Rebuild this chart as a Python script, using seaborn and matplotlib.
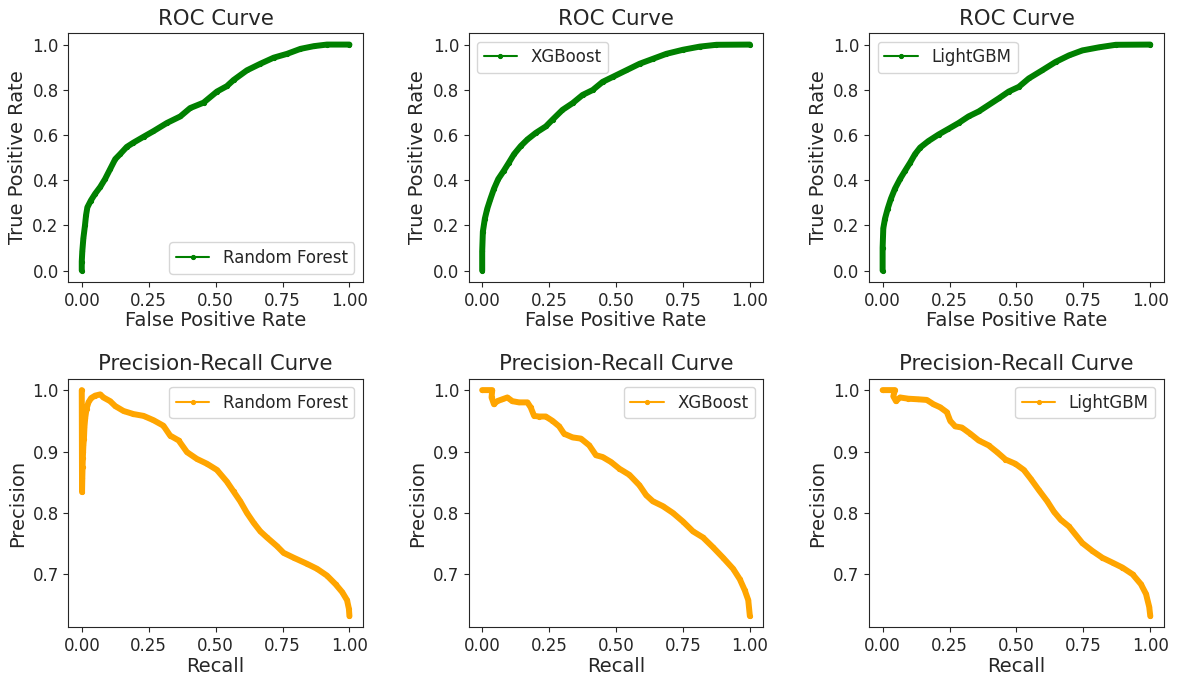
import matplotlib
matplotlib.use("Agg")
import matplotlib.pyplot as plt
import seaborn as sns

# ROC curves
rf_fpr = [0, 0, 0.002, 0.006, 0.012, 0.016, 0.021, 0.034, 0.05, 0.069, 0.087, 0.106, 0.125, 0.143,
          0.168, 0.193, 0.231, 0.268, 0.318, 0.368, 0.405, 0.455, 0.505, 0.542, 0.567, 0.617, 0.667,
          0.717, 0.767, 0.817, 0.867, 0.916, 1.0]
rf_tpr = [0, 0.04, 0.085, 0.143, 0.2, 0.245, 0.28, 0.31, 0.34, 0.37, 0.405, 0.449, 0.493, 0.515,
          0.547, 0.566, 0.592, 0.617, 0.653, 0.682, 0.719, 0.743, 0.792, 0.816, 0.843, 0.886, 0.915,
          0.942, 0.959, 0.981, 0.993, 1.0, 1.0]

xgb_fpr = [0, 0, 0.0025, 0.01, 0.019, 0.031, 0.044, 0.06, 0.081, 0.1, 0.119, 0.144, 0.169, 0.2,
           0.238, 0.263, 0.3, 0.338, 0.375, 0.413, 0.45, 0.488, 0.538, 0.588, 0.638, 0.688, 0.75,
           0.813, 0.875, 1.0]
xgb_tpr = [0, 0.085, 0.172, 0.23, 0.274, 0.318, 0.362, 0.405, 0.442, 0.478, 0.515, 0.551, 0.58, 0.609,
           0.638, 0.668, 0.711, 0.741, 0.777, 0.799, 0.835, 0.857, 0.886, 0.915, 0.937, 0.959, 0.977,
           0.991, 0.999, 1.0]

lgb_fpr = [0, 0, 0.0025, 0.009, 0.019, 0.031, 0.046, 0.065, 0.084, 0.103, 0.121, 0.14, 0.171, 0.209,
           0.246, 0.284, 0.321, 0.359, 0.434, 0.471, 0.509, 0.546, 0.596, 0.646, 0.696, 0.746, 0.809,
           0.871, 1.0]
lgb_tpr = [0, 0.1, 0.187, 0.23, 0.274, 0.318, 0.362, 0.405, 0.442, 0.478, 0.515, 0.544, 0.573, 0.602,
           0.627, 0.653, 0.682, 0.704, 0.762, 0.792, 0.813, 0.85, 0.886, 0.923, 0.952, 0.974, 0.988,
           0.999, 1.0]

# Precision-Recall curves
rf_rec = [0, 0.001, 0.002, 0.003, 0.004, 0.005, 0.006, 0.008, 0.010, 0.013, 0.018, 0.025, 0.035, 0.05,
          0.069, 0.081, 0.106, 0.125, 0.156, 0.193, 0.231, 0.268, 0.305, 0.33, 0.362, 0.393, 0.43,
          0.468, 0.505, 0.542, 0.567, 0.592, 0.617, 0.642, 0.667, 0.692, 0.729, 0.754, 0.792, 0.842,
          0.879, 0.916, 0.948, 0.973, 0.991, 0.998, 1.0]
rf_prec = [1.0, 0.834, 0.857, 0.875, 0.889, 0.9, 0.91, 0.92, 0.94, 0.955, 0.97, 0.98, 0.987, 0.991,
           0.993, 0.988, 0.982, 0.974, 0.966, 0.961, 0.958, 0.951, 0.942, 0.926, 0.918, 0.899, 0.888,
           0.88, 0.87, 0.851, 0.835, 0.819, 0.8, 0.784, 0.77, 0.76, 0.746, 0.735, 0.727, 0.717,
           0.709, 0.698, 0.684, 0.671, 0.658, 0.644, 0.632]

xgb_rec = [0, 0.0375, 0.035, 0.044, 0.056, 0.075, 0.094, 0.1125, 0.1375, 0.169, 0.181, 0.194, 0.2125,
           0.2375, 0.2625, 0.2875, 0.306, 0.3375, 0.369, 0.4, 0.425, 0.45, 0.481, 0.5125, 0.55, 0.5875,
           0.6125, 0.6375, 0.675, 0.7125, 0.75, 0.7875, 0.825, 0.8625, 0.9, 0.9375, 0.9625, 0.981,
           0.994, 1.0]
xgb_prec = [1.0, 1.0, 0.988, 0.977, 0.982, 0.985, 0.988, 0.982, 0.98, 0.98, 0.972, 0.958, 0.957,
            0.957, 0.95, 0.941, 0.929, 0.923, 0.921, 0.91, 0.894, 0.891, 0.883, 0.872, 0.862, 0.845,
            0.829, 0.819, 0.811, 0.8, 0.786, 0.77, 0.76, 0.744, 0.727, 0.709, 0.692, 0.674,
            0.658, 0.632]

lgb_rec = [0, 0.046, 0.04, 0.05, 0.065, 0.096, 0.134, 0.165, 0.19, 0.215, 0.24, 0.2525, 0.271, 0.296,
           0.3275, 0.359, 0.396, 0.4275, 0.459, 0.496, 0.5275, 0.5525, 0.584, 0.615, 0.64, 0.665,
           0.696, 0.746, 0.784, 0.821, 0.859, 0.896, 0.934, 0.965, 0.984, 0.996, 1.0]
lgb_prec = [1.0, 1.0, 0.99, 0.982, 0.988, 0.986, 0.985, 0.984, 0.977, 0.972, 0.964, 0.95, 0.941, 0.939,
            0.929, 0.918, 0.91, 0.899, 0.887, 0.88, 0.87, 0.856, 0.837, 0.819, 0.802, 0.789,
            0.778, 0.751, 0.738, 0.727, 0.719, 0.711, 0.7, 0.684, 0.668, 0.647, 0.632]

models = ["Random Forest", "XGBoost", "LightGBM"]
roc_data = [(rf_fpr, rf_tpr), (xgb_fpr, xgb_tpr), (lgb_fpr, lgb_tpr)]
pr_data = [(rf_rec, rf_prec), (xgb_rec, xgb_prec), (lgb_rec, lgb_prec)]
roc_legend = ["lower right", "upper left", "upper left"]

sns.set_style("ticks")
plt.rcParams['font.family'] = ['DejaVu Sans']

fig, axes = plt.subplots(2, 3, figsize=(11.79, 6.79), dpi=100)
fig.subplots_adjust(left=0.058, right=0.987, top=0.951, bottom=0.076, wspace=0.36, hspace=0.39)


def draw(ax, x, y, color, name, title, xlabel, ylabel, loc):
    sns.lineplot(x=x, y=y, sort=False, estimator=None, marker='.', color=color,
                 markeredgecolor=color, markersize=6, linewidth=4.3, label=name, ax=ax)
    ax.set_title(title, fontsize=15.3)
    ax.set_xlabel(xlabel, fontsize=14, labelpad=1)
    ax.set_ylabel(ylabel, fontsize=14)
    ax.tick_params(labelsize=12)
    leg = ax.legend(loc=loc, fontsize=12)
    for ln in leg.get_lines():
        ln.set_linewidth(1.5)


for i, name in enumerate(models):
    fpr, tpr = roc_data[i]
    draw(axes[0, i], fpr, tpr, 'green', name, 'ROC Curve',
         'False Positive Rate', 'True Positive Rate', roc_legend[i])
    axes[0, i].set_xticks([0, 0.25, 0.5, 0.75, 1.0])
    rec, prec = pr_data[i]
    draw(axes[1, i], rec, prec, 'orange', name, 'Precision-Recall Curve',
         'Recall', 'Precision', 'upper right')
    axes[1, i].set_xticks([0, 0.25, 0.5, 0.75, 1.0])
    axes[1, i].set_yticks([0.7, 0.8, 0.9, 1.0])

fig.savefig("out.png", dpi=100)
